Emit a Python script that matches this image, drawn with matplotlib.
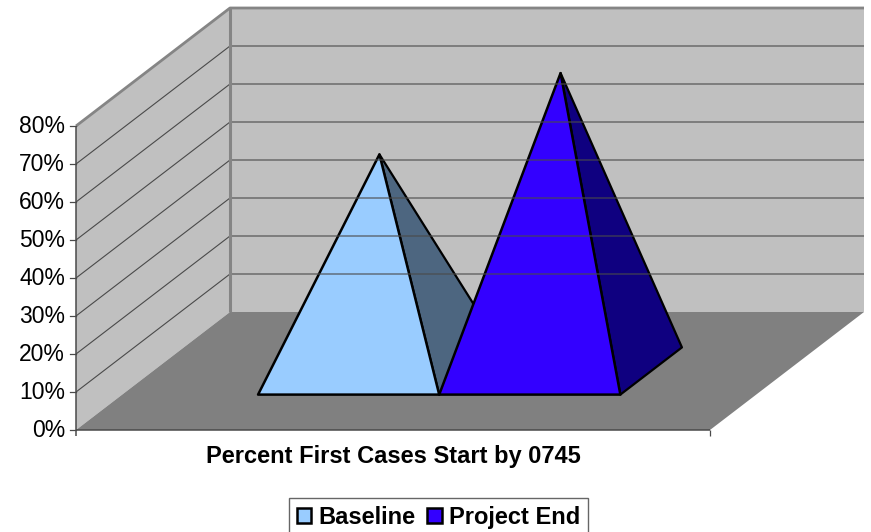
import matplotlib
matplotlib.use('Agg')
import matplotlib.pyplot as plt
from matplotlib.patches import Patch, Polygon

# chart data
series_names = ['Baseline', 'Project End']
series_values = [57.0, 78.4]
tick_values = [0, 10, 20, 30, 40, 50, 60, 70, 80]
tick_labels = ['0%', '10%', '20%', '30%', '40%', '50%', '60%', '70%', '80%']
category_label = 'Percent First Cases Start by 0745'

# colours
front_colors = ['#99CCFF', '#3300FF']
side_colors = ['#4D6680', '#0F0080']
wall_color = '#C0C0C0'
floor_color = '#808080'
edge_gray = '#858585'
line_dark = '#4A4A4A'

# fake 3d box, in pixels of the 871x532 picture
X0 = 76
Y0 = 430
BOX_W = 634
PX_PER_PCT = 3.8
DEPTH_X = 154
DEPTH_Y = 118
X_UNITS = 3.5    # box width in bar widths
GAP = 0.75       # space left of first bar


def project(x, depth, value):
    # x in bar widths, depth 0..1 front to back, value in percent
    px = X0 + x / X_UNITS * BOX_W + depth * DEPTH_X
    py = Y0 - value * PX_PER_PCT - depth * DEPTH_Y
    return px, py


def poly(ax, pts, **kw):
    ax.add_patch(Polygon([project(*p) for p in pts], closed=True, **kw))


def line(ax, pts, **kw):
    xy = [project(*p) for p in pts]
    ax.plot([p[0] for p in xy], [p[1] for p in xy], solid_capstyle='butt', **kw)


plt.rcParams['font.family'] = ['Liberation Sans', 'DejaVu Sans']
fig = plt.figure(figsize=(8.71, 5.32), dpi=100)
ax = fig.add_axes([0, 0, 1, 1])
ax.set_xlim(0, 871)
ax.set_ylim(532, 0)
ax.axis('off')

top = tick_values[-1]

# walls and floor
poly(ax, [(0, 1, 0), (X_UNITS, 1, 0), (X_UNITS, 1, top), (0, 1, top)], fc=wall_color, ec='none')
poly(ax, [(0, 0, 0), (0, 1, 0), (0, 1, top), (0, 0, top)], fc=wall_color, ec='none')

# gridlines
for v in tick_values[1:-1]:
    line(ax, [(0, 0, v), (0, 1, v), (X_UNITS, 1, v)], color=line_dark, lw=0.8)

poly(ax, [(0, 0, 0), (X_UNITS, 0, 0), (X_UNITS, 1, 0), (0, 1, 0)], fc=floor_color, ec='none')

# wall edges
line(ax, [(0, 1, 0), (0, 1, top)], color=edge_gray, lw=2.2)
line(ax, [(0, 0, top), (0, 1, top), (X_UNITS, 1, top)], color=edge_gray, lw=2)

# axis lines and ticks
line(ax, [(0, 0, -1.6), (0, 0, top)], color=line_dark, lw=1.1)
line(ax, [(0, 0, 0), (X_UNITS, 0, 0)], color=line_dark, lw=1.1)
line(ax, [(X_UNITS, 0, 0), (X_UNITS, 0, -1.6)], color=line_dark, lw=0.9)
for v, lab in zip(tick_values, tick_labels):
    px, py = project(0, 0, v)
    ax.plot([px - 6, px], [py, py], color=line_dark, lw=0.9)
    ax.text(px - 11, py + 0.5, lab, ha='right', va='center', fontsize=16.5, color='black')

# pyramids
for i, val in enumerate(series_values):
    x1 = GAP + i
    x2 = GAP + 1 + i
    xc = (x1 + x2) / 2
    apex = (xc, 0.5, val)
    poly(ax, [(x2, 0.3, 0), (x2, 0.7, 0), apex], fc=side_colors[i], ec='black', lw=1.6, joinstyle='round')
    poly(ax, [(x1, 0.3, 0), (x2, 0.3, 0), apex], fc=front_colors[i], ec='black', lw=1.8, joinstyle='round')

# x label
ax.text(393, 457, category_label, ha='center', va='center', fontsize=17, fontweight='bold', color='black')

# legend, bottom of the frame runs off the picture
handles = [Patch(fc=c, ec='black', lw=1.8) for c in front_colors]
leg = ax.legend(handles, series_names, loc='upper left', bbox_to_anchor=(289 / 871, 1 - 498 / 532),
                bbox_transform=ax.transAxes, ncol=2, frameon=True, fancybox=False,
                prop={'weight': 'bold', 'size': 17}, handlelength=0.6, handleheight=0.6,
                handletextpad=0.3, columnspacing=0.5, borderaxespad=0, borderpad=0.35)
leg.get_frame().set_edgecolor('#666666')
leg.get_frame().set_linewidth(1)
leg.get_frame().set_alpha(1)

fig.savefig('out.png', dpi=100)
